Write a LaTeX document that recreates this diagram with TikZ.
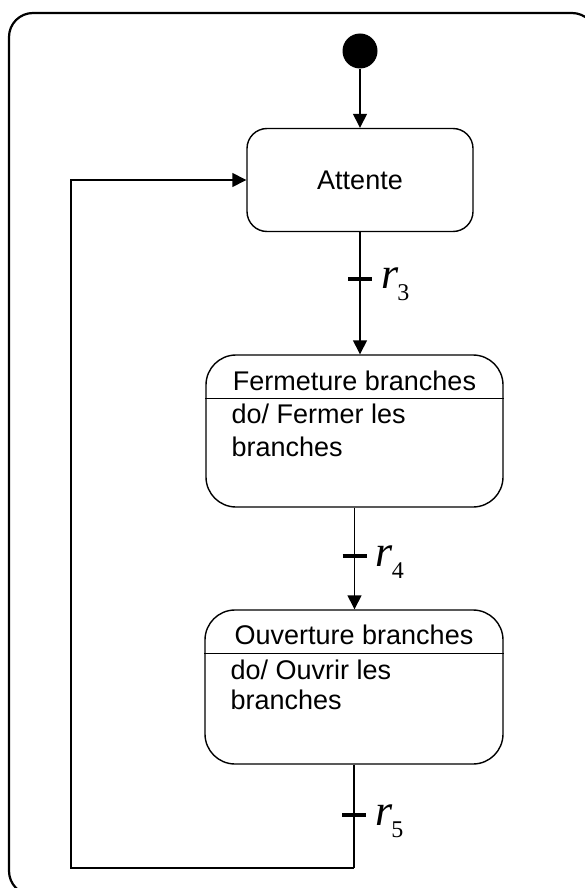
\documentclass[tikz,border=0pt]{standalone}
\usepackage{fontspec}
\setmainfont{Liberation Sans}
\newfontfamily\mathserif{Liberation Serif}
\usetikzlibrary{arrows.meta,calc}

\tikzset{
  state/.style={draw, line width=1.4pt, rounded corners=#1, inner sep=0pt},
  state/.default=22pt,
  arr/.style={line width=1.4pt, -{Triangle[length=14pt,width=14pt]}},
  conn/.style={line width=1.4pt},
  tickmark/.style={line width=4pt},
  frame/.style={line width=2.2pt, rounded corners=24pt},
  stxt/.style={font=\fontsize{27}{33}\selectfont, inner sep=0pt},
  lbl/.style={inner sep=0pt, anchor=base west},
}
\newcommand{\guard}[1]{{\mathserif\fontsize{44}{44}\selectfont\itshape r}\hspace{-1pt}\raisebox{-12pt}{\mathserif\fontsize{24}{24}\selectfont #1}}

\begin{document}
\begin{tikzpicture}[x=1pt,y=-1pt]
  \useasboundingbox (0,0) rectangle (585,888);
  \clip (0,0) rectangle (585,888);

  % enclosing frame (runs past the right and bottom edges)
  \draw[frame] (9,13) rectangle (596,895);

  % initial pseudo-state
  \node[circle, fill=black, minimum size=35pt, inner sep=0pt] (init) at (360,51) {};

  % states
  \node[state=20pt, minimum width=226pt, minimum height=103pt] (attente) at (360,180) {};
  \node[stxt] (attenteT) at (attente.center) {Attente};

  \node[state=30pt, minimum width=297pt, minimum height=152pt] (ferm) at (354.5,431) {};
  \draw[conn] ([yshift=-44pt]ferm.north west) -- ([yshift=-44pt]ferm.north east);
  \node[stxt, anchor=base] (fermT) at ([yshift=-36pt]ferm.north) {Fermeture branches};
  \node[stxt, anchor=base west] (fermA) at ([xshift=26pt,yshift=-69pt]ferm.north west) {do/ Fermer les};
  \node[stxt, anchor=base west] (fermB) at ([xshift=26pt,yshift=-102pt]ferm.north west) {branches};

  \node[state=30pt, minimum width=298pt, minimum height=154pt] (ouv) at (354,687) {};
  \draw[conn] ([yshift=-44pt]ouv.north west) -- ([yshift=-44pt]ouv.north east);
  \node[stxt, anchor=base] (ouvT) at ([yshift=-35pt]ouv.north) {Ouverture branches};
  \node[stxt, anchor=base west] (ouvA) at ([xshift=26pt,yshift=-70pt]ouv.north west) {do/ Ouvrir les};
  \node[stxt, anchor=base west] (ouvB) at ([xshift=26pt,yshift=-100pt]ouv.north west) {branches};

  % transitions
  \draw[arr] (init.south) -- (init.south |- attente.north);

  \draw[arr] (attente.south) -- coordinate[pos=0.38] (t3) (attente.south |- ferm.north);
  \draw[tickmark] ([xshift=-12pt]t3) -- ([xshift=12pt]t3);
  \node[lbl] (r3) at ([xshift=21pt,yshift=-10pt]t3) {\guard{3}};

  \draw[arr] (ferm.south) -- coordinate[pos=0.48] (t4) (ferm.south |- ouv.north);
  \draw[tickmark] ([xshift=-12pt]t4) -- ([xshift=12pt]t4);
  \node[lbl] (r4) at ([xshift=21pt,yshift=-10pt]t4) {\guard{4}};

  \coordinate (c1) at (ouv.south |- 0,868);
  \coordinate (c2) at (71,868);
  \coordinate (c3) at (71,180);
  \draw[conn] (ouv.south) -- coordinate[pos=0.49] (t5) (c1);
  \draw[arr] (c1) -- (c2) -- (c3) -- (attente.west);
  \draw[tickmark] ([xshift=-12pt]t5) -- ([xshift=12pt]t5);
  \node[lbl] (r5) at ([xshift=21pt,yshift=-10pt]t5) {\guard{5}};
\end{tikzpicture}
\end{document}
